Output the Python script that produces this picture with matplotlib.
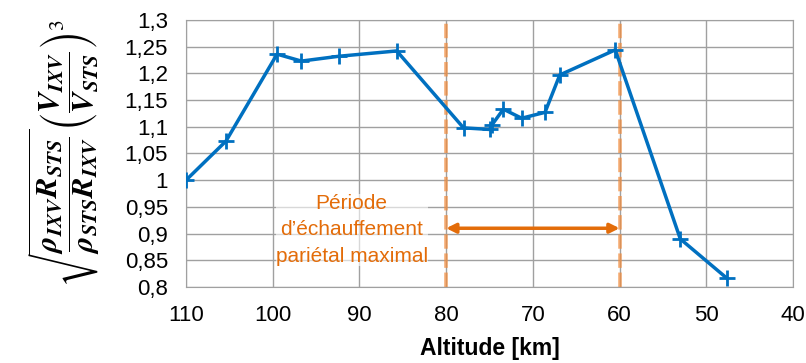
import matplotlib.pyplot as plt
from matplotlib.ticker import FuncFormatter, MultipleLocator

# Data
altitude = [110, 105.4, 99.5, 96.7, 92.4, 85.7, 78.0, 75.0, 74.7, 73.4, 71.3, 68.6, 66.9, 60.5, 53.0, 47.6]
ratio = [1.0, 1.073, 1.236, 1.223, 1.232, 1.242, 1.098, 1.095, 1.104, 1.133, 1.116, 1.127, 1.197, 1.244, 0.890, 0.816]

period_start = 80
period_end = 60
period_label = "Période\nd’échauffement\npariétal maximal"

plt.rcParams['font.family'] = ['Liberation Sans', 'DejaVu Sans']
plt.rcParams['mathtext.fontset'] = 'stix'

fig = plt.figure(figsize=(8.06, 3.63), dpi=100)
ax = fig.add_axes([0.2308, 0.2094, 0.7531, 0.7356])

ax.plot(altitude, ratio, color='#0070C0', lw=2.5, marker='+', ms=12, mew=2, zorder=3)

# period markers, a bit transparent so the gray grid line shows through
for x in (period_start, period_end):
    ax.axvline(x, color='#F28C3C', lw=2.6, alpha=0.7, ls=(0, (4, 1.3)), zorder=2)
ax.annotate('', xy=(period_start, 0.91), xytext=(period_end, 0.91),
            arrowprops=dict(arrowstyle='<|-|>', color='#E36C09', lw=2.5,
                            mutation_scale=14, shrinkA=0, shrinkB=0), zorder=4)
ax.text(90.9, 0.907, period_label, color='#E36C09', fontsize=15,
        ha='center', va='center', linespacing=1.5,
        bbox=dict(facecolor='white', edgecolor='none', alpha=0.6, pad=0), zorder=4)

ax.set_xlim(110, 40)
ax.set_ylim(0.8, 1.3)
ax.xaxis.set_major_locator(MultipleLocator(10))
ax.yaxis.set_major_locator(MultipleLocator(0.05))
ax.yaxis.set_major_formatter(FuncFormatter(lambda v, p: ('%g' % round(v, 2)).replace('.', ',')))
ax.grid(True, color='#A0A0A0', lw=1)
ax.set_axisbelow(True)
for s in ax.spines.values():
    s.set_color('#A0A0A0')
ax.tick_params(length=0, labelsize=16)
ax.tick_params(axis='y', pad=13)
ax.tick_params(axis='x', pad=13)

ax.set_xlabel('Altitude [km]', fontsize=16.5, fontweight='bold', labelpad=8)
ax.set_ylabel(r'$\sqrt{\dfrac{\mathbfit{\rho_{IXV} R_{STS}}}{\mathbfit{\rho_{STS} R_{IXV}}}}\left(\dfrac{\mathbfit{V_{IXV}}}{\mathbfit{V_{STS}}}\right)^3$',
              fontsize=22, labelpad=16)

fig.savefig('out.png', dpi=100)
